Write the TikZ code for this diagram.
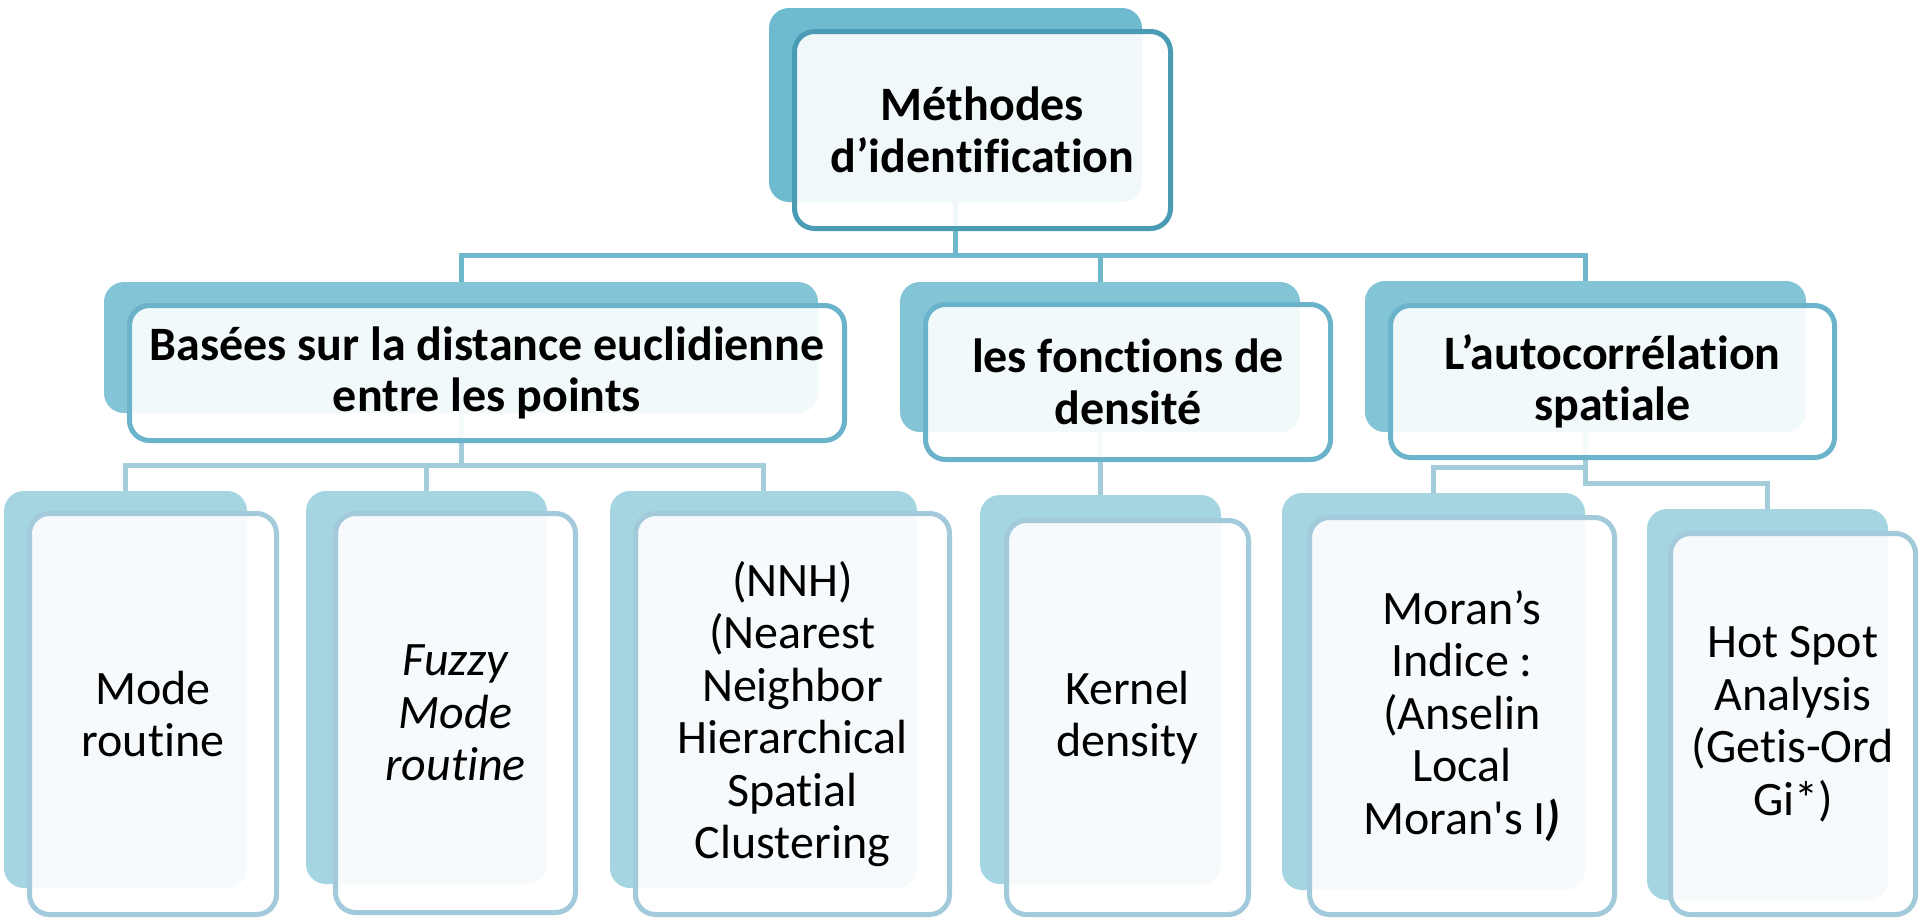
\documentclass[tikz,border=0pt]{standalone}
\usepackage{fontspec}
\setmainfont{Carlito}[Ligatures={TeXOff,CommonOff}]
\pgfdeclarelayer{bg}
\pgfsetlayers{bg,main}
\definecolor{bkA}{HTML}{6EBACE}
\definecolor{brA}{HTML}{4A9CB5}
\definecolor{bkB}{HTML}{83C4D6}
\definecolor{brB}{HTML}{6BB3CA}
\definecolor{bkC}{HTML}{A6D5E2}
\definecolor{brC}{HTML}{A2CADB}
\definecolor{cnA}{HTML}{6FB7CC}
\definecolor{cnB}{HTML}{A3CDDB}
\tikzset{
  backbox/.style={rectangle, rounded corners=20pt, inner sep=0pt, draw=none},
  frontbox/.style={rectangle, rounded corners=20pt, inner sep=0pt, fill=white,
    fill opacity=0.9, text opacity=1, line width=5pt, align=center, text=black,
    font=\fontsize{48}{52.5}\selectfont},
  boldtext/.style={font=\fontsize{48}{51.5}\selectfont\bfseries},
  connA/.style={draw=cnA, line width=5pt},
  connB/.style={draw=cnB, line width=5pt},
}
\begin{document}
\begin{tikzpicture}[x=1pt,y=-1pt]
\useasboundingbox (0,0) rectangle (1920,919);
% level 1
\node[backbox, fill=bkA, minimum width=373pt, minimum height=194pt] (tb) at (955.5,105) {};
\node[frontbox, boldtext, draw=brA, minimum width=376pt, minimum height=197pt] (tf) at (982.5,130) {Méthodes\\d’identification};
% level 2
\node[backbox, fill=bkB, minimum width=714pt, minimum height=131pt] (ab) at (461,347.5) {};
\node[frontbox, boldtext, draw=brB, minimum width=715pt, minimum height=135pt] (af) at (487,373) {Basées sur la distance euclidienne\\entre les points};
\node[backbox, fill=bkB, minimum width=400pt, minimum height=150pt] (bb) at (1100,357) {};
\node[frontbox, boldtext, draw=brB, minimum width=405pt, minimum height=155pt] (bf) at (1128,382) {les fonctions de\\densité};
\node[backbox, fill=bkB, minimum width=441pt, minimum height=151pt] (cb) at (1585.5,356.5) {};
\node[frontbox, boldtext, draw=brB, minimum width=444pt, minimum height=152pt] (cf) at (1612.5,381.5) {L’autocorrélation\\spatiale};
% level 3
\node[backbox, fill=bkC, minimum width=243pt, minimum height=397pt] (b1) at (125.5,689.5) {};
\node[frontbox, draw=brC, minimum width=247pt, minimum height=401pt] (f1) at (153,714) {Mode\\routine};
\node[backbox, fill=bkC, minimum width=241pt, minimum height=393pt] (b2) at (426.5,687.5) {};
\node[frontbox, draw=brC, minimum width=240pt, minimum height=399pt] (f2) at (455.5,713) {\itshape Fuzzy\\\itshape Mode\\\itshape routine};
\node[backbox, fill=bkC, minimum width=307pt, minimum height=397pt] (b3) at (763.5,689.5) {};
\node[frontbox, draw=brC, minimum width=314pt, minimum height=401pt] (f3) at (792.5,714) {(NNH)\\(Nearest\\Neighbor\\Hierarchical\\Spatial\\Clustering};
\node[backbox, fill=bkC, minimum width=241pt, minimum height=389pt] (b4) at (1100.5,689.5) {};
\node[frontbox, draw=brC, minimum width=242pt, minimum height=394pt] (f4) at (1127.5,717.5) {Kernel\\density};
\node[backbox, fill=bkC, minimum width=303pt, minimum height=397pt] (b5) at (1433.5,691.5) {};
\node[frontbox, draw=brC, minimum width=305pt, minimum height=397pt] (f5) at (1462,716) {Moran’s\\Indice :\\(Anselin\\Local\\Moran's I\textbf{\textit{)}}};
\node[backbox, fill=bkC, minimum width=241pt, minimum height=391pt] (b6) at (1767.5,704.5) {};
\node[frontbox, draw=brC, minimum width=245pt, minimum height=381pt] (f6) at (1793,724) {Hot Spot\\Analysis\\(Getis-Ord\\Gi*)};
% connectors
\coordinate (j1) at (0,255);
\coordinate (j2) at (0,465);
\coordinate (j3) at (0,467);
\coordinate (j4) at (0,483);
\begin{pgfonlayer}{bg}
\fill[white] (0,0) rectangle (1920,919);
\draw[connA] (tb.south) -- (tb.south |- j1) -| (ab.north);
\draw[connA] (tb.south |- j1) -| (bb.north);
\draw[connA] (tb.south |- j1) -| (cb.north);
\draw[connB] (ab.south) -- (ab.south |- j2);
\draw[connB] (b1.north) -- (b1.north |- j2) -- (b3.north |- j2) -- (b3.north);
\draw[connB] (b2.north |- j2) -- (b2.north);
\draw[connB] (bb.south) -- (b4.north);
\draw[connB] (cb.south) -- (cb.south |- j4) -| (b6.north);
\draw[connB] (cb.south |- j3) -| (b5.north);
\end{pgfonlayer}
\end{tikzpicture}
\end{document}
